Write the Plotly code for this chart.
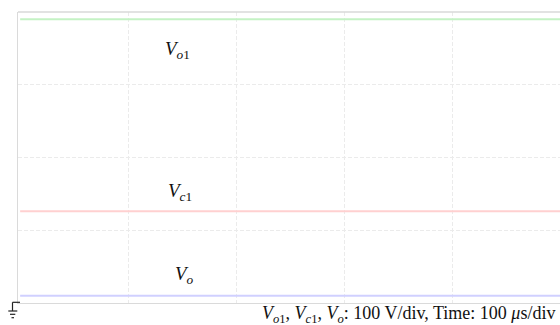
import plotly.graph_objects as go

# Data (time in microseconds, voltage in volts)
time_us = [0, 100, 200, 300, 400, 500]
v_o1 = [390, 390, 390, 390, 390, 390]
v_c1 = [126, 126, 126, 126, 126, 126]
v_o = [10, 10, 10, 10, 10, 10]
grid_time = [100, 200, 300, 400]
grid_volt = [100, 200, 300]

series_names = ["V_o1", "V_c1", "V_o"]
series_colors = ["#c4f2c4", "#ffd0d0", "#d0d0ff"]

FONT = "Liberation Serif"

fig = go.Figure()
for name, vals, col in zip(series_names, [v_o1, v_c1, v_o], series_colors):
    fig.add_trace(go.Scatter(x=time_us, y=vals, mode="lines", name=name,
                             line=dict(color=col, width=2), hoverinfo="skip"))

W, H = 560, 325
L, R, T, B = 18, 0, 12, 22
pw, ph = W - L - R, H - T - B

def px(x):
    return (x - L) / pw

def py(y):
    return (H - B - y) / ph

fig.update_layout(
    width=W, height=H,
    margin=dict(l=L, r=R, t=T, b=B, pad=0),
    paper_bgcolor="white", plot_bgcolor="white",
    showlegend=False,
    font=dict(family=FONT, color="#111"),
    xaxis=dict(range=[-2, 499], tickvals=grid_time, showticklabels=False, ticks="",
               showgrid=True, gridcolor="#ebebeb", griddash="4px,2px", gridwidth=1.2,
               zeroline=False, showline=True, linecolor="#dadada", linewidth=1, mirror=False),
    yaxis=dict(range=[0, 400], tickvals=grid_volt, showticklabels=False, ticks="",
               showgrid=True, gridcolor="#ebebeb", griddash="4px,2px", gridwidth=1.2,
               zeroline=False, showline=True, linecolor="#dadada", linewidth=1, mirror=False),
)

# top border
fig.add_shape(type="line", xref="paper", yref="paper", x0=0, x1=1, y0=1, y1=1,
              line=dict(color="#d8d8d8", width=1.5))

labels = [
    ("<i>V</i><sub><i>o</i>1</sub>", 145, 348),
    ("<i>V</i><sub><i>c</i>1</sub>", 148, 153),
    ("<i>V</i><sub><i>o</i></sub>", 152, 39),
]
for txt, x, y in labels:
    fig.add_annotation(x=x, y=y, xref="x", yref="y", text=txt, showarrow=False,
                       font=dict(family=FONT, size=19, color="#111"))

fig.add_annotation(
    x=px(557), y=py(314), xref="paper", yref="paper", xanchor="right", yanchor="middle",
    text="<i>V</i><sub><i>o</i>1</sub>, <i>V</i><sub><i>c</i>1</sub>, <i>V</i><sub><i>o</i></sub>: 100 V/div, Time: 100 <i>μ</i>s/div",
    showarrow=False, font=dict(family=FONT, size=18, color="#111"))

# ground symbol
gl = dict(color="#222", width=1.2)
fig.add_shape(type="line", xref="paper", yref="paper", x0=px(12.5), x1=px(20), y0=py(302.3), y1=py(302.3), line=gl)
fig.add_shape(type="line", xref="paper", yref="paper", x0=px(12.5), x1=px(12.5), y0=py(302.3), y1=py(311), line=gl)
fig.add_shape(type="line", xref="paper", yref="paper", x0=px(8.3), x1=px(17.3), y0=py(311), y1=py(311), line=gl)
fig.add_shape(type="line", xref="paper", yref="paper", x0=px(10), x1=px(15.3), y0=py(314.3), y1=py(314.3), line=gl)
fig.add_shape(type="line", xref="paper", yref="paper", x0=px(11.5), x1=px(14), y0=py(317.7), y1=py(317.7), line=gl)

fig.write_html("out.html")
